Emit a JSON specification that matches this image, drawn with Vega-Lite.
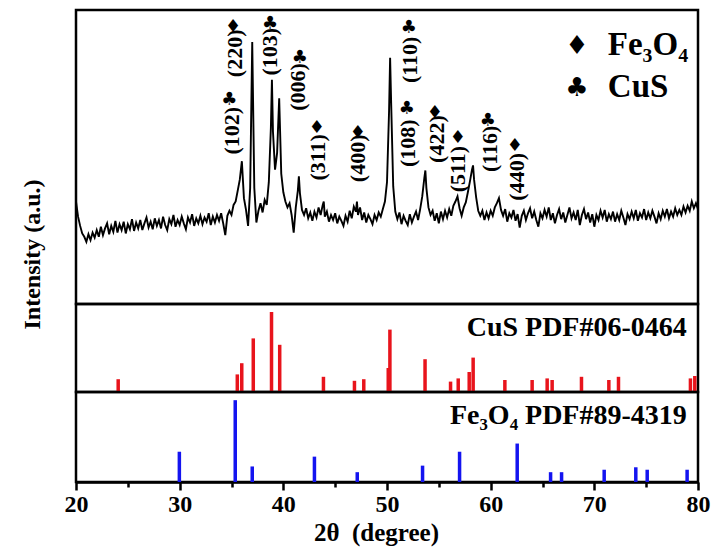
{
"$schema":"https://vega.github.io/schema/vega-lite/v6.json",
"background":"white",
"padding":{"left":18,"top":8,"right":5,"bottom":5},
"spacing":0,
"bounds":"flush",
"config":{"view":{"stroke":"black","strokeWidth":2.5},"concat":{"spacing":0},"text":{"font":"Liberation Serif","fontWeight":"bold","color":"black"}},
"datasets":{
"xrd":[{"deg":20.0,"cps":720},{"deg":20.2,"cps":540},{"deg":20.4,"cps":430},{"deg":20.6,"cps":340},{"deg":20.8,"cps":300},{"deg":21.0,"cps":240},{"deg":21.2,"cps":330},{"deg":21.4,"cps":260},{"deg":21.6,"cps":350},{"deg":21.8,"cps":290},{"deg":22.0,"cps":380},{"deg":22.2,"cps":300},{"deg":22.4,"cps":420},{"deg":22.6,"cps":320},{"deg":22.8,"cps":400},{"deg":23.0,"cps":460},{"deg":23.2,"cps":330},{"deg":23.4,"cps":430},{"deg":23.6,"cps":360},{"deg":23.8,"cps":490},{"deg":24.0,"cps":350},{"deg":24.2,"cps":450},{"deg":24.4,"cps":380},{"deg":24.6,"cps":480},{"deg":24.8,"cps":340},{"deg":25.0,"cps":450},{"deg":25.2,"cps":390},{"deg":25.4,"cps":510},{"deg":25.6,"cps":370},{"deg":25.8,"cps":470},{"deg":26.0,"cps":400},{"deg":26.2,"cps":500},{"deg":26.4,"cps":380},{"deg":26.6,"cps":460},{"deg":26.8,"cps":530},{"deg":27.0,"cps":410},{"deg":27.2,"cps":480},{"deg":27.4,"cps":390},{"deg":27.6,"cps":520},{"deg":27.8,"cps":430},{"deg":28.0,"cps":500},{"deg":28.2,"cps":400},{"deg":28.4,"cps":540},{"deg":28.6,"cps":440},{"deg":28.8,"cps":380},{"deg":29.0,"cps":510},{"deg":29.2,"cps":450},{"deg":29.4,"cps":560},{"deg":29.6,"cps":420},{"deg":29.8,"cps":500},{"deg":30.0,"cps":440},{"deg":30.2,"cps":540},{"deg":30.4,"cps":460},{"deg":30.6,"cps":390},{"deg":30.8,"cps":530},{"deg":31.0,"cps":470},{"deg":31.2,"cps":570},{"deg":31.4,"cps":430},{"deg":31.6,"cps":520},{"deg":31.8,"cps":460},{"deg":32.0,"cps":550},{"deg":32.2,"cps":450},{"deg":32.4,"cps":530},{"deg":32.6,"cps":480},{"deg":32.8,"cps":580},{"deg":33.0,"cps":440},{"deg":33.2,"cps":540},{"deg":33.4,"cps":470},{"deg":33.6,"cps":560},{"deg":33.8,"cps":490},{"deg":34.0,"cps":580},{"deg":34.2,"cps":460},{"deg":34.4,"cps":320},{"deg":34.6,"cps":550},{"deg":34.8,"cps":610},{"deg":35.0,"cps":560},{"deg":35.2,"cps":680},{"deg":35.4,"cps":720},{"deg":35.6,"cps":850},{"deg":35.8,"cps":980},{"deg":36.0,"cps":1200},{"deg":36.2,"cps":760},{"deg":36.4,"cps":620},{"deg":36.6,"cps":430},{"deg":36.8,"cps":880},{"deg":37.0,"cps":2620},{"deg":37.2,"cps":880},{"deg":37.4,"cps":470},{"deg":37.6,"cps":610},{"deg":37.8,"cps":700},{"deg":38.0,"cps":590},{"deg":38.2,"cps":740},{"deg":38.4,"cps":680},{"deg":38.6,"cps":950},{"deg":38.8,"cps":1600},{"deg":38.9,"cps":2170},{"deg":39.0,"cps":1550},{"deg":39.2,"cps":1100},{"deg":39.4,"cps":1300},{"deg":39.6,"cps":1950},{"deg":39.8,"cps":1050},{"deg":40.0,"cps":830},{"deg":40.2,"cps":720},{"deg":40.4,"cps":650},{"deg":40.6,"cps":700},{"deg":40.8,"cps":560},{"deg":41.0,"cps":350},{"deg":41.2,"cps":650},{"deg":41.4,"cps":850},{"deg":41.5,"cps":1020},{"deg":41.6,"cps":820},{"deg":41.8,"cps":620},{"deg":42.0,"cps":560},{"deg":42.2,"cps":640},{"deg":42.4,"cps":520},{"deg":42.6,"cps":590},{"deg":42.8,"cps":490},{"deg":43.0,"cps":600},{"deg":43.2,"cps":530},{"deg":43.4,"cps":650},{"deg":43.6,"cps":560},{"deg":43.8,"cps":680},{"deg":43.9,"cps":720},{"deg":44.0,"cps":540},{"deg":44.2,"cps":600},{"deg":44.4,"cps":480},{"deg":44.6,"cps":560},{"deg":44.8,"cps":500},{"deg":45.0,"cps":580},{"deg":45.2,"cps":460},{"deg":45.4,"cps":540},{"deg":45.6,"cps":490},{"deg":45.8,"cps":430},{"deg":46.0,"cps":550},{"deg":46.2,"cps":480},{"deg":46.4,"cps":610},{"deg":46.6,"cps":520},{"deg":46.8,"cps":660},{"deg":47.0,"cps":600},{"deg":47.1,"cps":720},{"deg":47.2,"cps":560},{"deg":47.4,"cps":650},{"deg":47.6,"cps":500},{"deg":47.8,"cps":590},{"deg":48.0,"cps":470},{"deg":48.2,"cps":560},{"deg":48.4,"cps":510},{"deg":48.6,"cps":450},{"deg":48.8,"cps":560},{"deg":49.0,"cps":500},{"deg":49.2,"cps":590},{"deg":49.4,"cps":540},{"deg":49.6,"cps":630},{"deg":49.8,"cps":720},{"deg":50.0,"cps":950},{"deg":50.2,"cps":1800},{"deg":50.3,"cps":2430},{"deg":50.4,"cps":1900},{"deg":50.6,"cps":900},{"deg":50.8,"cps":600},{"deg":51.0,"cps":510},{"deg":51.2,"cps":590},{"deg":51.4,"cps":450},{"deg":51.6,"cps":550},{"deg":51.8,"cps":490},{"deg":52.0,"cps":440},{"deg":52.2,"cps":570},{"deg":52.4,"cps":470},{"deg":52.6,"cps":540},{"deg":52.8,"cps":600},{"deg":53.0,"cps":500},{"deg":53.2,"cps":630},{"deg":53.4,"cps":780},{"deg":53.6,"cps":1000},{"deg":53.7,"cps":1090},{"deg":53.8,"cps":880},{"deg":54.0,"cps":650},{"deg":54.2,"cps":560},{"deg":54.4,"cps":610},{"deg":54.6,"cps":490},{"deg":54.8,"cps":580},{"deg":55.0,"cps":460},{"deg":55.2,"cps":600},{"deg":55.4,"cps":510},{"deg":55.6,"cps":610},{"deg":55.8,"cps":530},{"deg":56.0,"cps":630},{"deg":56.2,"cps":550},{"deg":56.4,"cps":670},{"deg":56.6,"cps":720},{"deg":56.8,"cps":780},{"deg":57.0,"cps":640},{"deg":57.2,"cps":550},{"deg":57.4,"cps":650},{"deg":57.6,"cps":710},{"deg":57.8,"cps":830},{"deg":58.0,"cps":960},{"deg":58.2,"cps":1100},{"deg":58.3,"cps":1150},{"deg":58.4,"cps":980},{"deg":58.6,"cps":770},{"deg":58.8,"cps":610},{"deg":59.0,"cps":550},{"deg":59.2,"cps":610},{"deg":59.4,"cps":500},{"deg":59.6,"cps":590},{"deg":59.8,"cps":520},{"deg":60.0,"cps":610},{"deg":60.2,"cps":550},{"deg":60.4,"cps":650},{"deg":60.6,"cps":700},{"deg":60.8,"cps":760},{"deg":61.0,"cps":620},{"deg":61.2,"cps":550},{"deg":61.4,"cps":630},{"deg":61.6,"cps":480},{"deg":61.8,"cps":580},{"deg":62.0,"cps":530},{"deg":62.2,"cps":620},{"deg":62.4,"cps":490},{"deg":62.6,"cps":570},{"deg":62.8,"cps":410},{"deg":63.0,"cps":550},{"deg":63.2,"cps":610},{"deg":63.4,"cps":500},{"deg":63.6,"cps":580},{"deg":63.8,"cps":640},{"deg":64.0,"cps":520},{"deg":64.2,"cps":600},{"deg":64.4,"cps":500},{"deg":64.6,"cps":420},{"deg":64.8,"cps":580},{"deg":65.0,"cps":520},{"deg":65.2,"cps":620},{"deg":65.4,"cps":540},{"deg":65.6,"cps":650},{"deg":65.8,"cps":500},{"deg":66.0,"cps":580},{"deg":66.2,"cps":460},{"deg":66.4,"cps":560},{"deg":66.6,"cps":630},{"deg":66.8,"cps":510},{"deg":67.0,"cps":590},{"deg":67.2,"cps":470},{"deg":67.4,"cps":560},{"deg":67.6,"cps":650},{"deg":67.8,"cps":520},{"deg":68.0,"cps":590},{"deg":68.2,"cps":500},{"deg":68.4,"cps":620},{"deg":68.6,"cps":440},{"deg":68.8,"cps":560},{"deg":69.0,"cps":630},{"deg":69.2,"cps":510},{"deg":69.4,"cps":590},{"deg":69.6,"cps":470},{"deg":69.8,"cps":570},{"deg":70.0,"cps":420},{"deg":70.2,"cps":560},{"deg":70.4,"cps":500},{"deg":70.6,"cps":610},{"deg":70.8,"cps":530},{"deg":71.0,"cps":620},{"deg":71.2,"cps":480},{"deg":71.4,"cps":570},{"deg":71.6,"cps":510},{"deg":71.8,"cps":600},{"deg":72.0,"cps":480},{"deg":72.2,"cps":570},{"deg":72.4,"cps":500},{"deg":72.6,"cps":610},{"deg":72.8,"cps":530},{"deg":73.0,"cps":440},{"deg":73.2,"cps":570},{"deg":73.4,"cps":510},{"deg":73.6,"cps":600},{"deg":73.8,"cps":520},{"deg":74.0,"cps":620},{"deg":74.2,"cps":490},{"deg":74.4,"cps":580},{"deg":74.6,"cps":530},{"deg":74.8,"cps":630},{"deg":75.0,"cps":500},{"deg":75.2,"cps":590},{"deg":75.4,"cps":520},{"deg":75.6,"cps":610},{"deg":75.8,"cps":540},{"deg":76.0,"cps":460},{"deg":76.2,"cps":580},{"deg":76.4,"cps":510},{"deg":76.6,"cps":610},{"deg":76.8,"cps":540},{"deg":77.0,"cps":630},{"deg":77.2,"cps":520},{"deg":77.4,"cps":600},{"deg":77.6,"cps":540},{"deg":77.8,"cps":640},{"deg":78.0,"cps":560},{"deg":78.2,"cps":620},{"deg":78.4,"cps":560},{"deg":78.6,"cps":660},{"deg":78.8,"cps":590},{"deg":79.0,"cps":670},{"deg":79.2,"cps":610},{"deg":79.4,"cps":720},{"deg":79.6,"cps":640},{"deg":79.8,"cps":700},{"deg":80.0,"cps":630}],
"hkl":[{"deg":35.04,"cps":1280,"label":"(102)"},{"deg":35.33,"cps":2200,"label":"(220)"},{"deg":38.71,"cps":2220,"label":"(103)"},{"deg":41.41,"cps":1800,"label":"(006)"},{"deg":43.34,"cps":970,"label":"(311)"},{"deg":47.19,"cps":950,"label":"(400)"},{"deg":52.21,"cps":2130,"label":"(110)"},{"deg":52.01,"cps":1130,"label":"(108)"},{"deg":54.81,"cps":1180,"label":"(422)"},{"deg":56.84,"cps":830,"label":"(511)"},{"deg":59.92,"cps":1070,"label":"(116)"},{"deg":62.53,"cps":730,"label":"(440)"}],
"sym":[{"deg":34.8,"cps":1930,"sym":"♣"},{"deg":35.14,"cps":2800,"sym":"♦"},{"deg":38.71,"cps":2830,"sym":"♣"},{"deg":41.6,"cps":2430,"sym":"♣"},{"deg":43.24,"cps":1600,"sym":"♦"},{"deg":47.19,"cps":1530,"sym":"♦"},{"deg":52.11,"cps":2780,"sym":"♣"},{"deg":51.92,"cps":1820,"sym":"♣"},{"deg":54.62,"cps":1770,"sym":"♦"},{"deg":56.84,"cps":1480,"sym":"♦"},{"deg":59.73,"cps":1680,"sym":"♣"},{"deg":62.33,"cps":1380,"sym":"♦"}],
"legsym":[{"deg":68.31,"cps":2570,"sym":"♦"},{"deg":68.31,"cps":2070,"sym":"♣"}],
"legtxt":[{"deg":71.3,"cps":2470,"label":"Fe₃O₄"},{"deg":71.3,"cps":1970,"label":"CuS"}],
"cus":[{"deg":24.07,"rel":16},{"deg":35.56,"rel":22},{"deg":35.99,"rel":36},{"deg":37.1,"rel":67},{"deg":38.86,"rel":100},{"deg":39.65,"rel":59},{"deg":43.87,"rel":19},{"deg":46.86,"rel":14},{"deg":47.76,"rel":16},{"deg":50.12,"rel":30},{"deg":50.28,"rel":78},{"deg":53.67,"rel":41},{"deg":56.13,"rel":13},{"deg":56.87,"rel":17},{"deg":57.93,"rel":25},{"deg":58.31,"rel":43},{"deg":61.37,"rel":15},{"deg":64.0,"rel":15},{"deg":65.45,"rel":17},{"deg":65.93,"rel":15},{"deg":68.76,"rel":19},{"deg":71.4,"rel":15},{"deg":72.33,"rel":19},{"deg":79.27,"rel":17},{"deg":79.69,"rel":20}],
"fe":[{"deg":29.97,"rel":37},{"deg":35.36,"rel":100},{"deg":37.0,"rel":19},{"deg":43.0,"rel":31},{"deg":47.13,"rel":12},{"deg":53.43,"rel":20},{"deg":57.0,"rel":37},{"deg":62.56,"rel":47},{"deg":65.78,"rel":12},{"deg":66.84,"rel":12},{"deg":70.95,"rel":15},{"deg":74.0,"rel":18},{"deg":75.1,"rel":15},{"deg":78.95,"rel":15}]
},
"vconcat":[
{"width":622,"height":294,
"layer":[
{"data":{"name":"xrd"},"mark":{"type":"line","color":"black","strokeWidth":1.9},
"encoding":{"x":{"field":"deg","type":"quantitative","scale":{"domain":[20,80]},"axis":null},"y":{"field":"cps","type":"quantitative","scale":{"domain":[-30,2910]},"axis":{"title":"Intensity (a.u.)","labels":false,"ticks":false,"domain":false,"grid":false,"titleX":-44,"titleY":244,"titleAngle":270,"titleAlign":"center","titleBaseline":"middle","titleFont":"Liberation Serif","titleFontWeight":"bold","titleFontSize":24,"titleColor":"black"}}}},
{"data":{"name":"hkl"},"mark":{"type":"text","angle":270,"align":"left","baseline":"middle","fontSize":22},
"encoding":{"x":{"field":"deg","type":"quantitative"},"y":{"field":"cps","type":"quantitative"},"text":{"field":"label"}}},
{"data":{"name":"sym"},"mark":{"type":"text","align":"center","baseline":"middle","fontSize":18,"font":"DejaVu Sans"},
"encoding":{"x":{"field":"deg","type":"quantitative"},"y":{"field":"cps","type":"quantitative"},"text":{"field":"sym"}}},
{"data":{"name":"legsym"},"mark":{"type":"text","align":"center","baseline":"middle","fontSize":26,"font":"DejaVu Sans"},
"encoding":{"x":{"field":"deg","type":"quantitative"},"y":{"field":"cps","type":"quantitative"},"text":{"field":"sym"}}},
{"data":{"name":"legtxt"},"mark":{"type":"text","align":"left","baseline":"alphabetic","fontSize":33},
"encoding":{"x":{"field":"deg","type":"quantitative"},"y":{"field":"cps","type":"quantitative"},"text":{"field":"label"}}}
]},
{"width":622,"height":88,
"layer":[
{"data":{"name":"cus"},"mark":{"type":"rule","color":"#e8141c","strokeWidth":3.5},
"encoding":{"x":{"field":"deg","type":"quantitative","scale":{"domain":[20,80]},"axis":null},"y":{"field":"rel","type":"quantitative","scale":{"domain":[0,110]},"axis":null},"y2":{"datum":0}}},
{"data":{"values":[{"deg":78.92,"rel":70,"label":"CuS PDF#06-0464"}]},"mark":{"type":"text","align":"right","baseline":"alphabetic","fontSize":28},
"encoding":{"x":{"field":"deg","type":"quantitative"},"y":{"field":"rel","type":"quantitative"},"text":{"field":"label"}}}
]},
{"width":622,"height":90,
"resolve":{"axis":{"x":"independent"}},
"layer":[
{"data":{"name":"fe"},"mark":{"type":"rule","color":"#1414f0","strokeWidth":3.5},
"encoding":{"x":{"field":"deg","type":"quantitative","scale":{"domain":[20,80]},
"axis":{"values":[20,30,40,50,60,70,80],"format":"d","title":"2θ\u00a0 (degree)","titleX":300,"grid":false,"domain":true,"domainColor":"black","domainWidth":2.5,"tickColor":"black","tickWidth":2.5,"tickSize":8,"labelFont":"Liberation Serif","labelFontWeight":"bold","labelFontSize":24,"labelColor":"black","labelPadding":2,"labelFlush":false,"titleFont":"Liberation Serif","titleFontWeight":"bold","titleFontSize":25,"titleColor":"black","titlePadding":4}},
"y":{"field":"rel","type":"quantitative","scale":{"domain":[0,108]},"axis":null},"y2":{"datum":0}}},
{"data":{"values":[{"deg":78.92,"rel":71,"label":"Fe₃O₄ PDF#89-4319"}]},"mark":{"type":"text","align":"right","baseline":"alphabetic","fontSize":28},
"encoding":{"x":{"field":"deg","type":"quantitative","axis":{"orient":"bottom","values":[25,35,45,55,65,75],"labels":false,"title":null,"domain":false,"grid":false,"tickColor":"black","tickWidth":2.5,"tickSize":5}},"y":{"field":"rel","type":"quantitative"},"text":{"field":"label"}}}
]}
]
}
